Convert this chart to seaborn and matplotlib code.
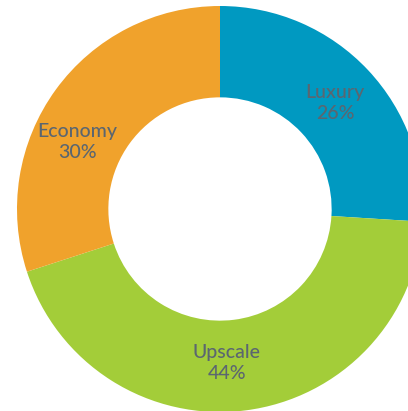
import matplotlib
matplotlib.use("Agg")
import matplotlib.pyplot as plt
import seaborn as sns

categories = ["Luxury", "Upscale", "Economy"]
shares = [26, 44, 30]
colors = ["#0099C1", "#A3CD39", "#F0A22C"]
# label anchor positions (fraction of outer radius)
label_pos = [(0.567, 0.522), (0.034, -0.759), (-0.704, 0.330)]

sns.set_theme(style="white")
plt.rcParams['font.family'] = ['Lato', 'DejaVu Sans']
palette = sns.color_palette(colors)

fig = plt.figure(figsize=(4.08, 4.11), dpi=100)
ax = fig.add_axes([17/408, -1/411, 406/408, 406/411])
wedges, _ = ax.pie(shares, colors=palette, startangle=90, counterclock=False,
                   radius=1.0, wedgeprops=dict(width=0.45, linewidth=0))
for w in wedges:
    w.set_clip_on(False)
for c, v, (x, y) in zip(categories, shares, label_pos):
    ax.text(x, y, f"{c}\n{v}%", color="#5B6670", fontsize=14, ha="center", va="center",
            linespacing=1.3, fontweight="medium", clip_on=False)
ax.set_xlim(-1, 1)
ax.set_ylim(-1, 1)
ax.set_aspect("equal")
ax.axis("off")
fig.savefig("out.png", dpi=100)
